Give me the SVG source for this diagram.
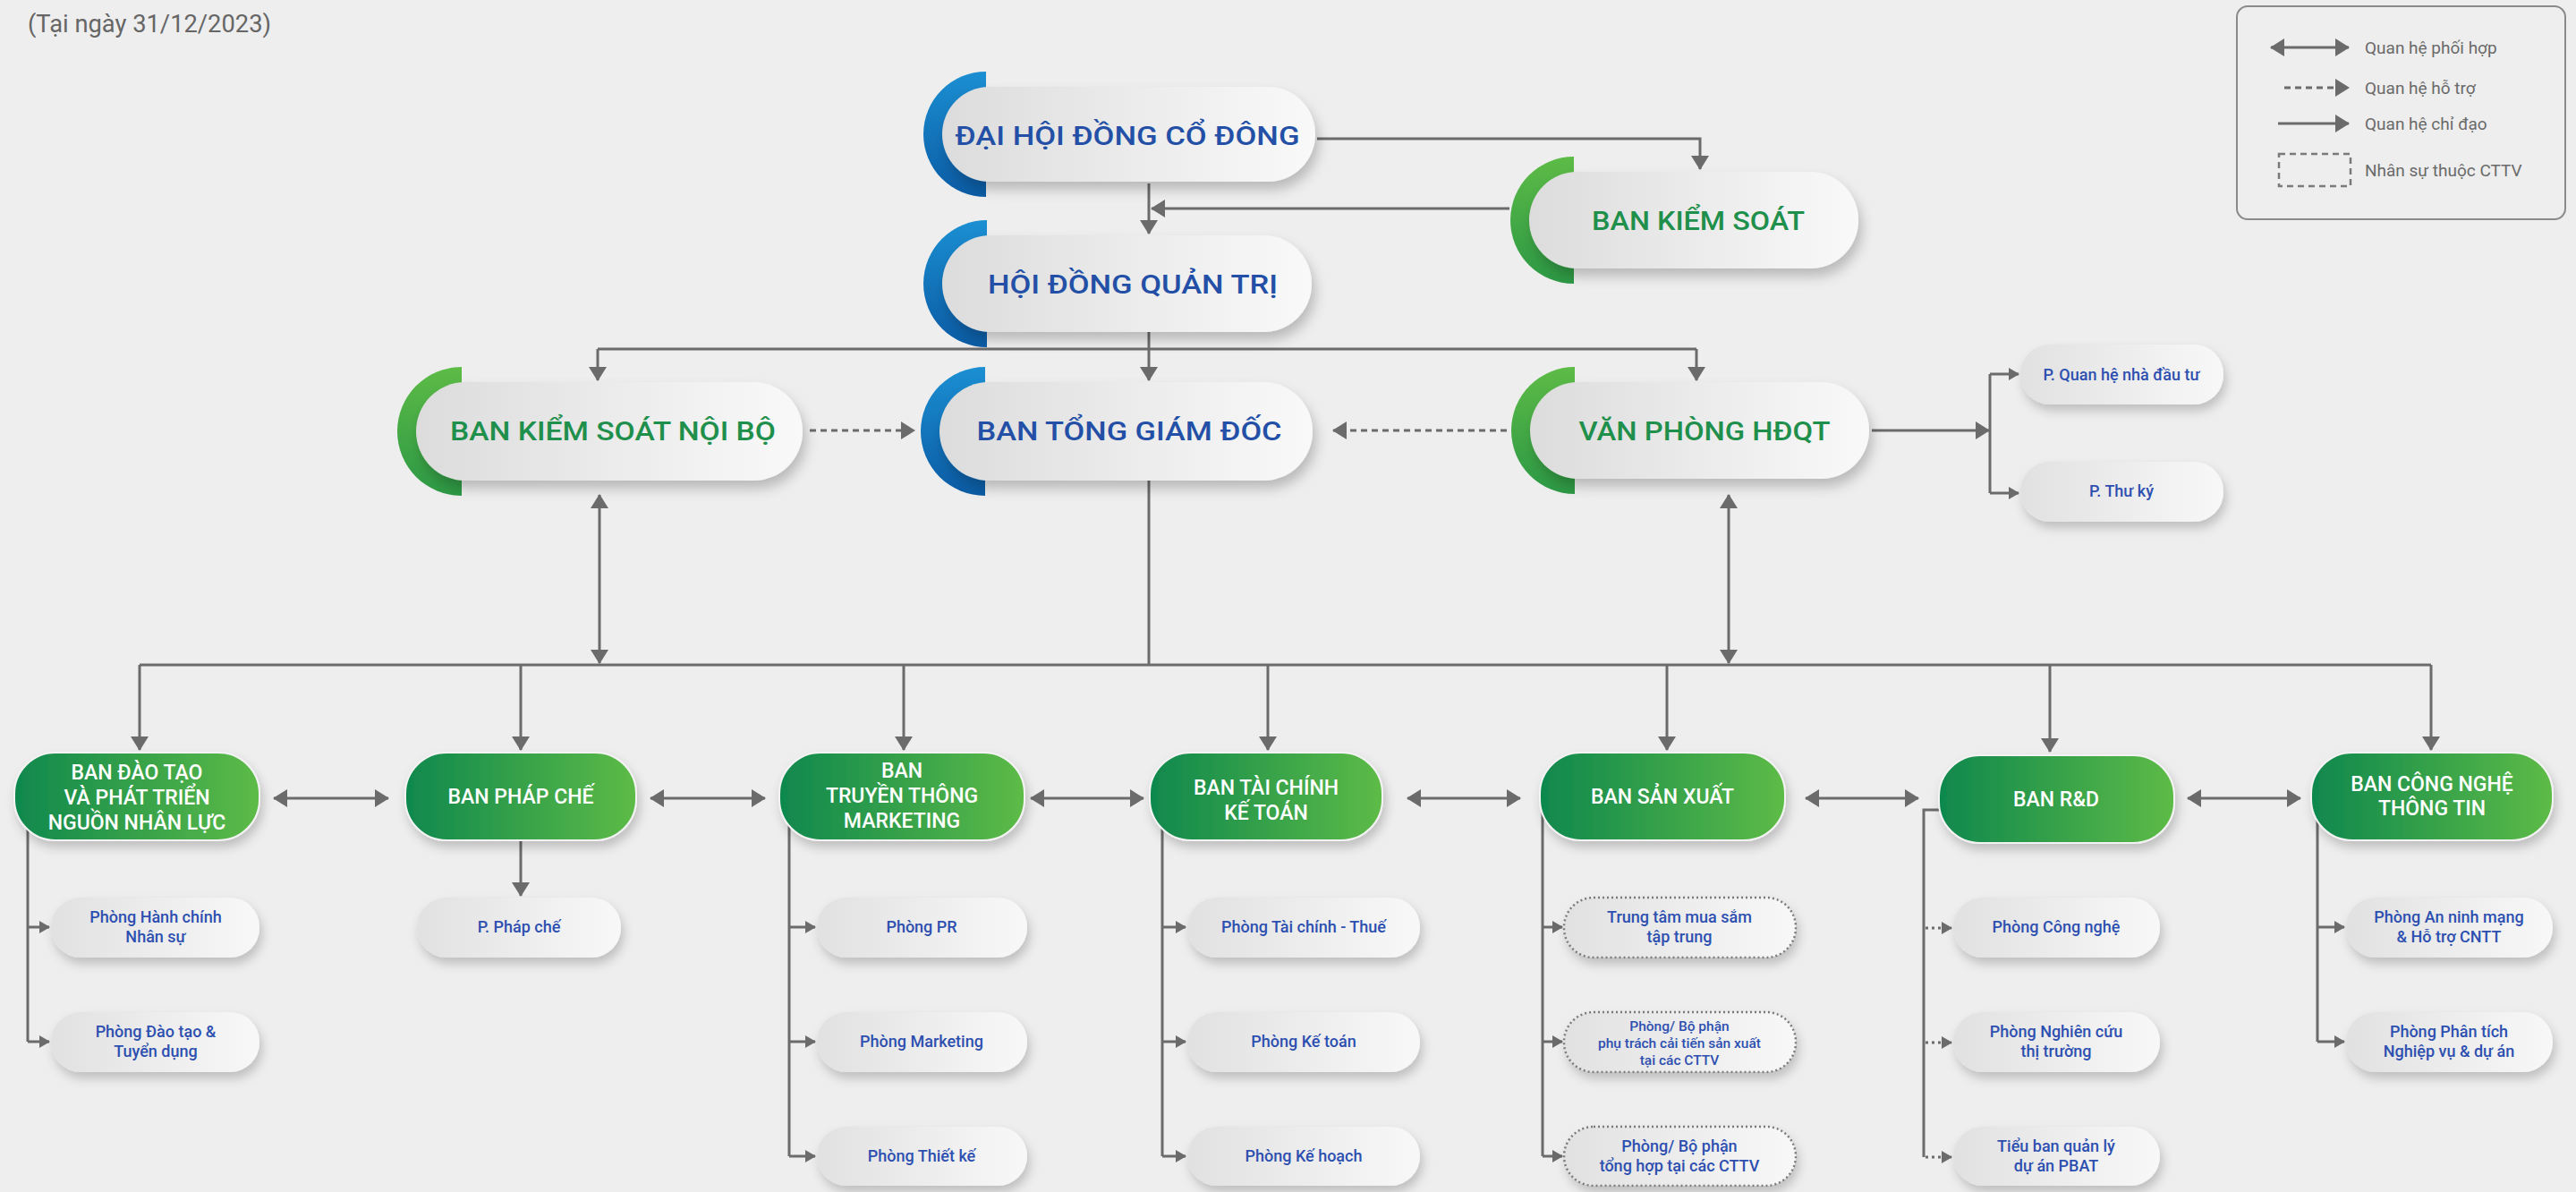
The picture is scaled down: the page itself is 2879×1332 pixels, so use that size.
<svg xmlns="http://www.w3.org/2000/svg" width="2879" height="1332" viewBox="0 0 2879 1332">
<style>
.conn path{fill:none;stroke:#6b6b6b;stroke-width:3}
.conn .dash{stroke-dasharray:7 5}
.conn .dot{stroke-dasharray:3 4}
.title{font-family:"Roboto","Liberation Sans",sans-serif;font-weight:500;font-size:30px;text-anchor:middle}
.blue{fill:#2350a6}
.green{fill:#1f8f4c}
.l3{font-family:"Roboto","Liberation Sans",sans-serif;font-weight:500;font-size:23px;fill:#ffffff;text-anchor:middle}
.sub{font-family:"Roboto","Liberation Sans",sans-serif;font-weight:500;font-size:18px;fill:#2d4fb0;text-anchor:middle}
.subs{font-size:15.5px}
.leg{font-family:"Roboto","Liberation Sans",sans-serif;font-size:19px;fill:#6a6a6a}
.pill{fill:url(#gPill);filter:url(#sh)}
.spill{fill:url(#gSub);filter:url(#sh2)}
.dpill{fill:url(#gSub);stroke:#7a7a7a;stroke-width:2.5;stroke-dasharray:2 3;filter:url(#sh2)}
.gnode{fill:url(#gGreen);stroke:#f3f3f3;stroke-width:2;filter:url(#sh2)}
</style>
<defs>
<linearGradient id="gPill" x1="0" y1="0" x2="1" y2="0"><stop offset="0" stop-color="#dcdcdc"/><stop offset="0.5" stop-color="#ebebeb"/><stop offset="1" stop-color="#f9f9f9"/></linearGradient>
<linearGradient id="gSub" x1="0" y1="0" x2="1" y2="0"><stop offset="0" stop-color="#e1e1e1"/><stop offset="1" stop-color="#f8f8f8"/></linearGradient>
<linearGradient id="gGreen" x1="0" y1="0" x2="1" y2="0"><stop offset="0" stop-color="#0f884e"/><stop offset="1" stop-color="#5dbb46"/></linearGradient>
<linearGradient id="gBlueArc" x1="0" y1="0" x2="0" y2="1"><stop offset="0" stop-color="#1b8fd2"/><stop offset="1" stop-color="#0b5ba4"/></linearGradient>
<linearGradient id="gGreenArc" x1="0" y1="0" x2="0" y2="1"><stop offset="0" stop-color="#5dbb46"/><stop offset="1" stop-color="#2c9845"/></linearGradient>
<filter id="sh" x="-20%" y="-30%" width="140%" height="170%"><feDropShadow dx="4" dy="9" stdDeviation="7" flood-color="#000" flood-opacity="0.22"/></filter>
<filter id="sh2" x="-20%" y="-30%" width="140%" height="170%"><feDropShadow dx="3" dy="7" stdDeviation="6" flood-color="#000" flood-opacity="0.2"/></filter>
<marker id="ah" viewBox="0 0 16 20" markerWidth="16" markerHeight="20" refX="15" refY="10" orient="auto-start-reverse" markerUnits="userSpaceOnUse"><path d="M0,0 L16,10 L0,20 Z" fill="#6b6b6b"/></marker>
<marker id="ahs" viewBox="0 0 12 14" markerWidth="12" markerHeight="14" refX="11" refY="7" orient="auto" markerUnits="userSpaceOnUse"><path d="M0,0 L12,7 L0,14 Z" fill="#6b6b6b"/></marker>
</defs>
<rect x="0" y="0" width="2879" height="1332" fill="#eeeeee"/>
<text x="31" y="36" font-family="Roboto, 'Liberation Sans', sans-serif" font-size="27" fill="#666666" textLength="272" lengthAdjust="spacingAndGlyphs">(Tại ngày 31/12/2023)</text>

<g id="legend">
<rect x="2500" y="7" width="367" height="238" rx="12" fill="none" stroke="#8a8a8a" stroke-width="2"/>
<g class="conn">
<path d="M2538,53 H2625" marker-start="url(#ah)" marker-end="url(#ah)"/>
<path class="dash" d="M2553,98 H2625" marker-end="url(#ah)"/>
<path d="M2546,138 H2625" marker-end="url(#ah)"/>
</g>
<rect x="2547" y="172" width="80" height="36" fill="none" stroke="#7a7a7a" stroke-width="2.5" stroke-dasharray="7 5"/>
<text class="leg" x="2643" y="60">Quan hệ phối hợp</text>
<text class="leg" x="2643" y="105">Quan hệ hỗ trợ</text>
<text class="leg" x="2643" y="145">Quan hệ chỉ đạo</text>
<text class="leg" x="2643" y="197">Nhân sự thuộc CTTV</text>
</g>

<g id="connectors" class="conn">
<path d="M1472,155 H1900 V189" marker-end="url(#ah)"/>
<path d="M1687,233 H1287" marker-end="url(#ah)"/>
<path d="M1284,205 V261" marker-end="url(#ah)"/>
<path d="M1284,371 V390"/>
<path d="M668,390 H1896"/>
<path d="M668,390 V425" marker-end="url(#ah)"/>
<path d="M1284,390 V425" marker-end="url(#ah)"/>
<path d="M1896,390 V425" marker-end="url(#ah)"/>
<path class="dash" d="M905,481 H1022" marker-end="url(#ah)"/>
<path class="dash" d="M1684,481 H1490" marker-end="url(#ah)"/>
<path d="M2092,481 H2223" marker-end="url(#ah)"/>
<path d="M2224,418 V551"/>
<path d="M2224,418 H2256" marker-end="url(#ahs)"/>
<path d="M2224,551 H2256" marker-end="url(#ahs)"/>
<path d="M1284,537 V743"/>
<path d="M156,743 H2717"/>
<path d="M670,553 V741" marker-start="url(#ah)" marker-end="url(#ah)"/>
<path d="M1932,553 V741" marker-start="url(#ah)" marker-end="url(#ah)"/>
<path d="M156,743 V838" marker-end="url(#ah)"/>
<path d="M582,743 V838" marker-end="url(#ah)"/>
<path d="M1010,743 V838" marker-end="url(#ah)"/>
<path d="M1417,743 V838" marker-end="url(#ah)"/>
<path d="M1863,743 V838" marker-end="url(#ah)"/>
<path d="M2291,743 V840" marker-end="url(#ah)"/>
<path d="M2717,743 V838" marker-end="url(#ah)"/>
<path d="M306,892 H434" marker-start="url(#ah)" marker-end="url(#ah)"/>
<path d="M727,892 H855" marker-start="url(#ah)" marker-end="url(#ah)"/>
<path d="M1152,892 H1278" marker-start="url(#ah)" marker-end="url(#ah)"/>
<path d="M1573,892 H1699" marker-start="url(#ah)" marker-end="url(#ah)"/>
<path d="M2018,892 H2144" marker-start="url(#ah)" marker-end="url(#ah)"/>
<path d="M2445,892 H2571" marker-start="url(#ah)" marker-end="url(#ah)"/>
<path d="M31,890 V1164"/>
<path d="M31,1036 H55" marker-end="url(#ahs)"/>
<path d="M31,1164 H55" marker-end="url(#ahs)"/>
<path d="M582,940 V1001" marker-end="url(#ah)"/>
<path d="M882,890 V1292"/>
<path d="M882,1036 H911" marker-end="url(#ahs)"/>
<path d="M882,1164 H911" marker-end="url(#ahs)"/>
<path d="M882,1292 H911" marker-end="url(#ahs)"/>
<path d="M1299,890 V1292"/>
<path d="M1299,1036 H1325" marker-end="url(#ahs)"/>
<path d="M1299,1164 H1325" marker-end="url(#ahs)"/>
<path d="M1299,1292 H1325" marker-end="url(#ahs)"/>
<path d="M1724,890 V1292"/>
<path d="M1724,1036 H1746" marker-end="url(#ahs)"/>
<path d="M1724,1164 H1746" marker-end="url(#ahs)"/>
<path d="M1724,1292 H1746" marker-end="url(#ahs)"/>
<path d="M2168,905 H2150 V1293"/>
<path class="dot" d="M2152,1037 H2181" marker-end="url(#ahs)"/>
<path class="dot" d="M2152,1165 H2181" marker-end="url(#ahs)"/>
<path class="dot" d="M2152,1293 H2181" marker-end="url(#ahs)"/>
<path d="M2590,890 V1164"/>
<path d="M2590,1036 H2620" marker-end="url(#ahs)"/>
<path d="M2590,1164 H2620" marker-end="url(#ahs)"/>
</g>

<g id="n-dhdcd">
<path d="M1102,80 A70,70 0 0 0 1102,220 Z" fill="url(#gBlueArc)"/>
<rect class="pill" x="1053" y="97" width="417" height="106" rx="53"/>
<text class="title blue" x="1260" y="162" textLength="385" lengthAdjust="spacingAndGlyphs">ĐẠI HỘI ĐỒNG CỔ ĐÔNG</text>
</g>
<g id="n-hdqt">
<path d="M1103,246 A71,71 0 0 0 1103,388 Z" fill="url(#gBlueArc)"/>
<rect class="pill" x="1053" y="263" width="413" height="108" rx="54"/>
<text class="title blue" x="1266" y="328" textLength="324" lengthAdjust="spacingAndGlyphs">HỘI ĐỒNG QUẢN TRỊ</text>
</g>
<g id="n-bks">
<path d="M1759,175 A71,71 0 0 0 1759,317 Z" fill="url(#gGreenArc)"/>
<rect class="pill" x="1709" y="192" width="368" height="108" rx="54"/>
<text class="title green" x="1898" y="257" textLength="238" lengthAdjust="spacingAndGlyphs">BAN KIỂM SOÁT</text>
</g>
<g id="n-bksnb">
<path d="M516,410 A72,72 0 0 0 516,554 Z" fill="url(#gGreenArc)"/>
<rect class="pill" x="465" y="427" width="432" height="110" rx="55"/>
<text class="title green" x="685" y="492" textLength="364" lengthAdjust="spacingAndGlyphs">BAN KIỂM SOÁT NỘI BỘ</text>
</g>
<g id="n-btgd">
<path d="M1101,410 A72,72 0 0 0 1101,554 Z" fill="url(#gBlueArc)"/>
<rect class="pill" x="1050" y="427" width="417" height="110" rx="55"/>
<text class="title blue" x="1262" y="492" textLength="341" lengthAdjust="spacingAndGlyphs">BAN TỔNG GIÁM ĐỐC</text>
</g>
<g id="n-vphdqt">
<path d="M1760,410 A71,71 0 0 0 1760,552 Z" fill="url(#gGreenArc)"/>
<rect class="pill" x="1710" y="427" width="379" height="108" rx="54"/>
<text class="title green" x="1905" y="492" textLength="281" lengthAdjust="spacingAndGlyphs">VĂN PHÒNG HĐQT</text>
</g>
<g id="n-qhndt">
<rect class="spill" x="2258" y="385" width="227" height="67" rx="33"/>
<text class="sub" x="2371" y="425">P. Quan hệ nhà đầu tư</text>
</g>
<g id="n-thuky">
<rect class="spill" x="2258" y="516" width="227" height="67" rx="33"/>
<text class="sub" x="2371" y="555">P. Thư ký</text>
</g>

<g id="n-daotao">
<rect class="gnode" x="16" y="841" width="274" height="98" rx="46"/>
<text class="l3" x="153" y="871">BAN ĐÀO TẠO</text>
<text class="l3" x="153" y="899">VÀ PHÁT TRIỂN</text>
<text class="l3" x="153" y="927">NGUỒN NHÂN LỰC</text>
</g>
<g id="n-phapche">
<rect class="gnode" x="453" y="841" width="258" height="98" rx="46"/>
<text class="l3" x="582" y="898">BAN PHÁP CHẾ</text>
</g>
<g id="n-truyenthong">
<rect class="gnode" x="871" y="841" width="274" height="98" rx="46"/>
<text class="l3" x="1008" y="869">BAN</text>
<text class="l3" x="1008" y="897">TRUYỀN THÔNG</text>
<text class="l3" x="1008" y="925">MARKETING</text>
</g>
<g id="n-taichinh">
<rect class="gnode" x="1285" y="841" width="260" height="98" rx="46"/>
<text class="l3" x="1415" y="888">BAN TÀI CHÍNH</text>
<text class="l3" x="1415" y="916">KẾ TOÁN</text>
</g>
<g id="n-sanxuat">
<rect class="gnode" x="1721" y="841" width="274" height="98" rx="46"/>
<text class="l3" x="1858" y="898">BAN SẢN XUẤT</text>
</g>
<g id="n-rd">
<rect class="gnode" x="2167" y="844" width="263" height="98" rx="46"/>
<text class="l3" x="2298" y="901">BAN R&amp;D</text>
</g>
<g id="n-cntt">
<rect class="gnode" x="2583" y="841" width="270" height="98" rx="46"/>
<text class="l3" x="2718" y="884">BAN CÔNG NGHỆ</text>
<text class="l3" x="2718" y="911">THÔNG TIN</text>
</g>

<g id="n-hcns">
<rect class="spill" x="57" y="1003" width="233" height="67" rx="33"/>
<text class="sub" x="174" y="1031">Phòng Hành chính</text>
<text class="sub" x="174" y="1053">Nhân sự</text>
</g>
<g id="n-dttd">
<rect class="spill" x="57" y="1131" width="233" height="67" rx="33"/>
<text class="sub" x="174" y="1159">Phòng Đào tạo &amp;</text>
<text class="sub" x="174" y="1181">Tuyển dụng</text>
</g>
<g id="n-ppc">
<rect class="spill" x="466" y="1003" width="228" height="67" rx="33"/>
<text class="sub" x="580" y="1042">P. Pháp chế</text>
</g>
<g id="n-pr">
<rect class="spill" x="913" y="1003" width="235" height="67" rx="33"/>
<text class="sub" x="1030" y="1042">Phòng PR</text>
</g>
<g id="n-mkt">
<rect class="spill" x="913" y="1131" width="235" height="67" rx="33"/>
<text class="sub" x="1030" y="1170">Phòng Marketing</text>
</g>
<g id="n-tk">
<rect class="spill" x="913" y="1259" width="235" height="66" rx="33"/>
<text class="sub" x="1030" y="1298">Phòng Thiết kế</text>
</g>
<g id="n-tct">
<rect class="spill" x="1327" y="1003" width="260" height="67" rx="33"/>
<text class="sub" x="1457" y="1042">Phòng Tài chính - Thuế</text>
</g>
<g id="n-kt">
<rect class="spill" x="1327" y="1131" width="260" height="67" rx="33"/>
<text class="sub" x="1457" y="1170">Phòng Kế toán</text>
</g>
<g id="n-kh">
<rect class="spill" x="1327" y="1259" width="260" height="66" rx="33"/>
<text class="sub" x="1457" y="1298">Phòng Kế hoạch</text>
</g>
<g id="n-ttms">
<rect class="dpill" x="1748" y="1003" width="259" height="67" rx="33"/>
<text class="sub" x="1877" y="1031">Trung tâm mua sắm</text>
<text class="sub" x="1877" y="1053">tập trung</text>
</g>
<g id="n-ctsx">
<rect class="dpill" x="1748" y="1131" width="259" height="67" rx="33"/>
<text class="sub subs" x="1877" y="1152">Phòng/ Bộ phận</text>
<text class="sub subs" x="1877" y="1171">phụ trách cải tiến sản xuất</text>
<text class="sub subs" x="1877" y="1190">tại các CTTV</text>
</g>
<g id="n-th">
<rect class="dpill" x="1748" y="1259" width="259" height="66" rx="33"/>
<text class="sub" x="1877" y="1287">Phòng/ Bộ phận</text>
<text class="sub" x="1877" y="1309">tổng hợp tại các CTTV</text>
</g>
<g id="n-cn">
<rect class="spill" x="2183" y="1003" width="231" height="67" rx="33"/>
<text class="sub" x="2298" y="1042">Phòng Công nghệ</text>
</g>
<g id="n-nctt">
<rect class="spill" x="2183" y="1131" width="231" height="67" rx="33"/>
<text class="sub" x="2298" y="1159">Phòng Nghiên cứu</text>
<text class="sub" x="2298" y="1181">thị trường</text>
</g>
<g id="n-pbat">
<rect class="spill" x="2183" y="1259" width="231" height="66" rx="33"/>
<text class="sub" x="2298" y="1287">Tiểu ban quản lý</text>
<text class="sub" x="2298" y="1309">dự án PBAT</text>
</g>
<g id="n-anm">
<rect class="spill" x="2622" y="1003" width="231" height="67" rx="33"/>
<text class="sub" x="2737" y="1031">Phòng An ninh mạng</text>
<text class="sub" x="2737" y="1053">&amp; Hỗ trợ CNTT</text>
</g>
<g id="n-ptnv">
<rect class="spill" x="2622" y="1131" width="231" height="67" rx="33"/>
<text class="sub" x="2737" y="1159">Phòng Phân tích</text>
<text class="sub" x="2737" y="1181">Nghiệp vụ &amp; dự án</text>
</g>
</svg>
